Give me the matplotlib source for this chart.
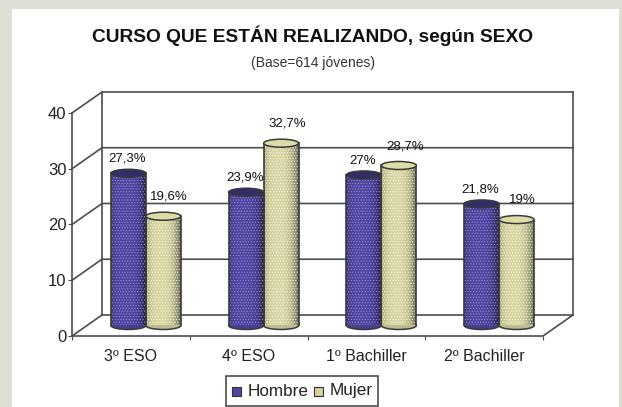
#!/usr/bin/env python3
"""Pseudo-3D cylinder bars: CURSO QUE ESTAN REALIZANDO, segun SEXO."""
import matplotlib
matplotlib.use("Agg")
import matplotlib.pyplot as plt
import numpy as np
from matplotlib.patches import Ellipse, Rectangle

plt.rcParams["font.family"] = ["Liberation Sans", "DejaVu Sans"]
plt.rcParams["hatch.linewidth"] = 0.5

categories = ["3º ESO", "4º ESO", "1º Bachiller", "2º Bachiller"]
hombre = [27.3, 23.9, 27.0, 21.8]
mujer = [19.6, 32.7, 28.7, 19.0]
hombre_labels = ["27,3%", "23,9%", "27%", "21,8%"]
mujer_labels = ["19,6%", "32,7%", "28,7%", "19%"]
y_ticks = [0, 10, 20, 30, 40]

W, H = 622, 407
BG = "#dfdfd5"
LINE = "#4d4d4d"
BLUE = np.array([0.31, 0.27, 0.62])
KHAKI = np.array([0.83, 0.82, 0.62])
# depth of the fake 3D box, in data units (1 category = 117.75 px, 1 y unit = 5.57 px)
DX, DY = 30 / 117.75, 21 / 5.57
BAR_W = 0.297
ELL_H = 8 / 5.57


def cylinder(ax, xc, val, base, hatch_col, cap_shade):
    # xc is the centre of the cylinder, shifted half way into the box
    x0, x1 = xc - BAR_W / 2, xc + BAR_W / 2
    y0, y1 = DY / 2, DY / 2 + val
    xs = np.linspace(x0, x1, 25)
    for a, b in zip(xs[:-1], xs[1:]):
        t = ((a + b) / 2 - xc) / (BAR_W / 2)
        shade = 1.02 - 0.38 * abs(t + 0.15) ** 3
        ax.add_patch(Rectangle((a, y0), b - a, y1 - y0, fc=np.clip(base * shade, 0, 1),
                               ec="none", zorder=5, clip_on=False))
    # bottom cap, then stipple and outline
    ax.add_patch(Ellipse((xc, y0), BAR_W, ELL_H, fc=base * 0.9, ec="#3a3a3a", lw=1.1, zorder=4,
                         clip_on=False))
    ax.add_patch(Rectangle((x0, y0), BAR_W, y1 - y0, fc="none", ec=hatch_col, hatch="......",
                           lw=0, zorder=6, clip_on=False))
    ax.plot([x0, x0], [y0, y1], color="#3a3a3a", lw=1.2, zorder=7, clip_on=False)
    ax.plot([x1, x1], [y0, y1], color="#3a3a3a", lw=1.2, zorder=7, clip_on=False)
    ax.add_patch(Ellipse((xc, y1), BAR_W, ELL_H, fc=base * cap_shade, ec="#3a3a3a", lw=1.1, zorder=7,
                         clip_on=False))


fig = plt.figure(figsize=(W / 100, H / 100), dpi=100, facecolor=BG)
fig.add_artist(Rectangle((12 / W, 0), (619 - 12) / W, 1 - 8.5 / H, transform=fig.transFigure,
                         fc="white", ec="none", zorder=-1))

# axes is the front plane of the box, everything else is drawn outside with clip off
ax = fig.add_axes([72 / W, 1 - 336 / H, (543 - 72) / W, (336 - 113) / H])
ax.set_xlim(0, 4)
ax.set_ylim(0, 40)
ax.patch.set_alpha(0)
for s in ax.spines.values():
    s.set_visible(False)
ax.set_xticks(range(5))
ax.set_xticklabels([])
ax.set_yticks(y_ticks)
ax.tick_params(axis="y", length=3, color=LINE, labelsize=12, labelcolor="#222222", pad=1)
ax.tick_params(axis="x", length=3, color=LINE)
for t in ax.get_xticklines() + ax.get_yticklines():
    t.set_clip_on(False)

# back wall, floor, side wall
for v in y_ticks:
    ax.plot([0, DX, 4 + DX], [v, v + DY, v + DY], color=LINE, lw=1.2, clip_on=False, zorder=1)
ax.plot([0, 0], [0, 40], color=LINE, lw=1.2, clip_on=False, zorder=1)
ax.plot([DX, DX], [DY, 40 + DY], color=LINE, lw=1.2, clip_on=False, zorder=1)
ax.plot([4 + DX, 4 + DX], [DY, 40 + DY], color=LINE, lw=1.2, clip_on=False, zorder=1)
ax.plot([0, 4, 4 + DX], [0, 0, DY], color=LINE, lw=1.2, clip_on=False, zorder=1)

for i, cat in enumerate(categories):
    xc = i + 0.5 + DX / 2
    cylinder(ax, xc - BAR_W / 2, hombre[i], BLUE, "#8f8ad0", 0.65)
    cylinder(ax, xc + BAR_W / 2, mujer[i], KHAKI, "#f2f2e2", 1.05)
    ax.text(xc - BAR_W / 2 - 0.01, DY / 2 + hombre[i] + 1.5, hombre_labels[i], ha="center", va="bottom",
            fontsize=9.5, color="#111111", zorder=8)
    ax.text(xc + BAR_W / 2 + 0.05, DY / 2 + mujer[i] + 2.4, mujer_labels[i], ha="center", va="bottom",
            fontsize=9.5, color="#111111", zorder=8)
    ax.text(i + 0.5, -2.4, cat, ha="center", va="top", fontsize=11.5, color="#222222")

fig.text(313 / W, 1 - 36 / H, "CURSO QUE ESTÁN REALIZANDO, según SEXO", ha="center", va="center",
         fontsize=13.8, fontweight="bold", color="#111111")
fig.text(313 / W, 1 - 63 / H, "(Base=614 jóvenes)", ha="center", va="center", fontsize=10,
         color="#333333")

# hand-built legend box so it sits where the original does
fig.add_artist(Rectangle((226 / W, 1 - 406 / H), 152 / W, 30 / H, transform=fig.transFigure,
                         fc="white", ec=LINE, lw=1.2))
fig.add_artist(Rectangle((232 / W, 1 - 396 / H), 9 / W, 9 / H, transform=fig.transFigure,
                         fc=BLUE, ec="#333333", lw=0.8))
fig.add_artist(Rectangle((314 / W, 1 - 396 / H), 9 / W, 9 / H, transform=fig.transFigure,
                         fc=KHAKI, ec="#333333", lw=0.8))
fig.text(248 / W, 1 - 391 / H, "Hombre", ha="left", va="center", fontsize=12.3, color="#222222")
fig.text(330 / W, 1 - 391 / H, "Mujer", ha="left", va="center", fontsize=12.3, color="#222222")

fig.savefig("out.png", dpi=100, facecolor=BG)
